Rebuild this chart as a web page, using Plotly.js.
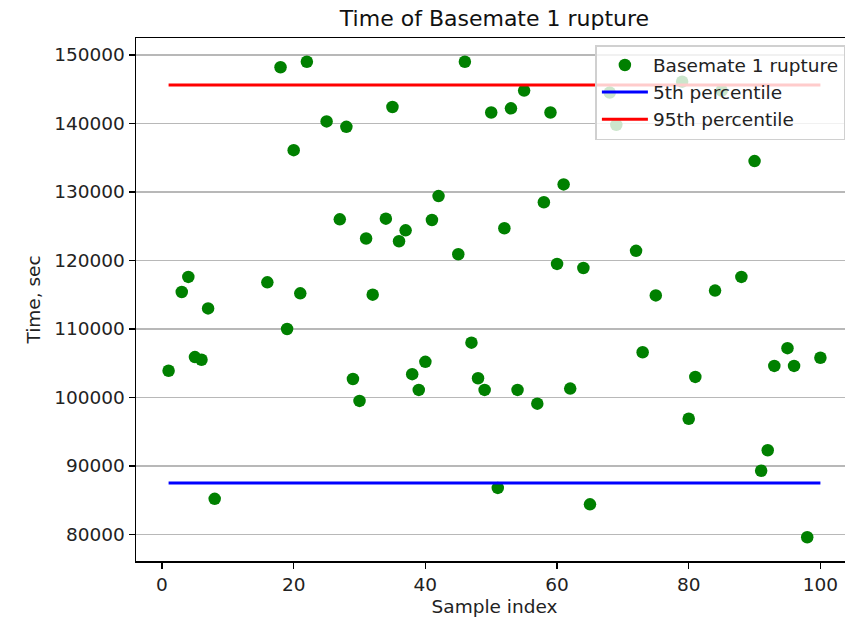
<!DOCTYPE html>
<html>
<head>
<meta charset="utf-8">
<script src="https://cdn.plot.ly/plotly-3.0.1.min.js"></script>
<style>
html, body { margin: 0; padding: 0; overflow: hidden; background: #fff; width: 845px; height: 619px; }
#chart { width: 860px; height: 619px; }
</style>
</head>
<body>
<div id="chart"></div>
<script>
const sampleIndex = [1, 3, 4, 5, 6, 7, 8, 16, 18, 19, 20, 21, 22, 25, 27, 28, 29, 30, 31, 32,
  34, 35, 36, 37, 38, 39, 40, 41, 42, 45, 46, 47, 48, 49, 50, 51, 52, 53, 54, 55,
  57, 58, 59, 60, 61, 62, 64, 65, 68, 69, 72, 73, 75, 79, 80, 81, 84, 85, 88, 90,
  91, 92, 93, 95, 96, 98, 100];
const ruptureTime = [103900, 115400, 117600, 105900, 105500, 113000, 85200, 116800, 148200, 110000,
  136100, 115200, 149000, 140300, 126000, 139500, 102700, 99500, 123200, 115000,
  126100, 142400, 122800, 124400, 103400, 101100, 105200, 125900, 129400, 120900,
  149000, 108000, 102800, 101100, 141600, 86800, 124700, 142200, 101100, 144800,
  99100, 128500, 141600, 119500, 131100, 101300, 118900, 84400, 144500, 139800,
  121400, 106600, 114900, 146100, 96900, 103000, 115600, 144800, 117600, 134500,
  89300, 92300, 104600, 107200, 104600, 79600, 105800];
const percentileX = [1, 100];
const p5 = [87500, 87500];
const p95 = [145600, 145600];
const yTicks = [80000, 90000, 100000, 110000, 120000, 130000, 140000, 150000];
const xTicks = [0, 20, 40, 60, 80, 100];

const font = "DejaVu Sans, sans-serif";
const traces = [
  { x: sampleIndex, y: ruptureTime, mode: 'markers', type: 'scatter', name: 'Basemate 1 rupture',
    marker: { color: '#008000', size: 12.5 } },
  { x: percentileX, y: p5, mode: 'lines', type: 'scatter', name: '5th percentile',
    line: { color: '#0000ff', width: 3 } },
  { x: percentileX, y: p95, mode: 'lines', type: 'scatter', name: '95th percentile',
    line: { color: '#ff0000', width: 3 } }
];
const layout = {
  width: 860, height: 619,
  margin: { l: 136, r: 7, t: 38, b: 58 },
  paper_bgcolor: '#fff', plot_bgcolor: '#fff',
  font: { family: font, size: 18.5, color: '#222' },
  title: { text: 'Time of Basemate 1 rupture', font: { family: font, size: 22, color: '#111' },
    x: 0.5, xref: 'paper', xanchor: 'center', y: 1 - 18 / 619, yref: 'container', yanchor: 'middle' },
  xaxis: {
    range: [-3.95, 104.95], tickvals: xTicks, ticktext: xTicks.map(String),
    showgrid: false, zeroline: false,
    showline: true, mirror: true, linecolor: '#000', linewidth: 1.5,
    ticks: 'outside', ticklen: 6, tickwidth: 1.5, tickcolor: '#000',
    title: { text: 'Sample index', font: { family: font, size: 18.5, color: '#222' }, standoff: 6 },
    tickfont: { family: font, size: 18.5, color: '#222' }
  },
  yaxis: {
    range: [76130, 152470], tickvals: yTicks, ticktext: yTicks.map(String),
    showgrid: true, gridcolor: '#b8b8b8', gridwidth: 1.5, zeroline: false,
    showline: true, mirror: true, linecolor: '#000', linewidth: 1.5,
    ticks: 'outside', ticklen: 6, tickwidth: 1.5, tickcolor: '#000',
    title: { text: 'Time, sec', font: { family: font, size: 18.5, color: '#222' }, standoff: 8 },
    tickfont: { family: font, size: 18.5, color: '#222' }
  },
  showlegend: true,
  legend: {
    x: (845 - 136) / (852.6 - 136), xanchor: 'right', xref: 'paper',
    y: (561 - 45) / 523, yanchor: 'top', yref: 'paper',
    bgcolor: 'rgba(255,255,255,0.8)', bordercolor: '#d0d0d0', borderwidth: 1.5,
    font: { family: font, size: 18.5, color: '#222' },
    tracegroupgap: 0, itemwidth: 46
  }
};
Plotly.newPlot('chart', traces, layout, { displayModeBar: false, staticPlot: true });
</script>
</body>
</html>
